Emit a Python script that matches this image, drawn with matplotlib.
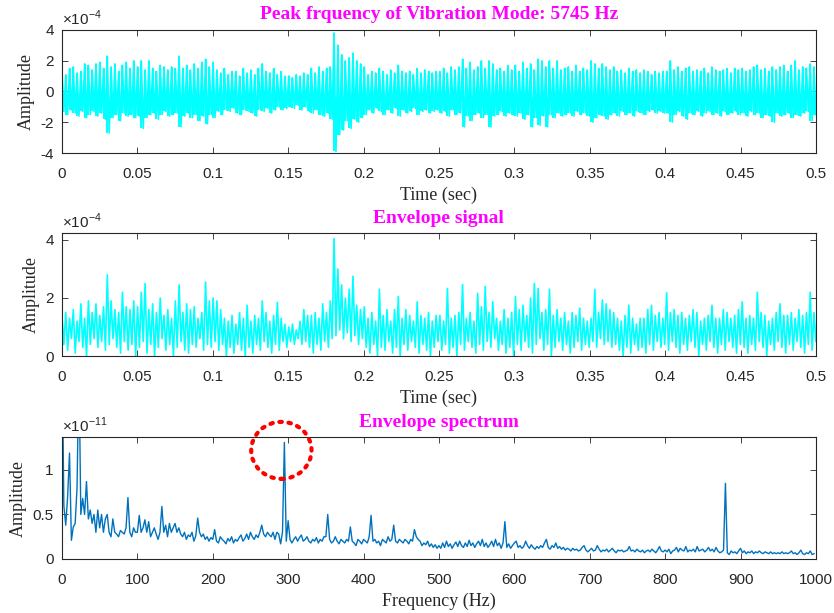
import numpy as np
import matplotlib
matplotlib.use("Agg")
import matplotlib.pyplot as plt
from matplotlib.patches import Ellipse

plt.rcParams['mathtext.fontset'] = 'custom'
plt.rcParams['mathtext.rm'] = 'Liberation Sans'
plt.rcParams['axes.unicode_minus'] = False

# -------- raw vibration signal, per-step max / min (x1e-4), 2.5 ms steps --------
sig_hi = [
    1.4, 1.1, 1.5, 1.6, 1.2, 1.3, 1.8, 1.7, 1.4, 1.8, 1.9, 1.5, 2.3, 1.6, 1.8, 1.3, 1.7, 1.9, 1.5, 2.0,
    1.6, 2.0, 1.4, 2.0, 1.5, 1.3, 1.7, 1.6, 1.4, 1.6, 1.5, 2.3, 1.5, 1.7, 1.4, 1.8, 1.5, 1.9, 2.1, 1.6,
    1.9, 1.4, 1.2, 1.5, 1.1, 1.3, 1.3, 1.0, 1.5, 1.2, 1.4, 1.1, 1.5, 1.8, 1.3, 1.2, 1.5, 1.1, 1.3, 1.0,
    1.0, 0.9, 1.1, 1.0, 1.2, 1.1, 1.5, 1.2, 1.6, 1.3, 1.5, 1.6, 3.8, 3.0, 2.4, 2.0, 2.2, 2.5, 2.0, 1.8,
    1.6, 1.1, 1.3, 1.2, 1.5, 1.3, 1.1, 1.4, 1.2, 1.7, 1.3, 1.2, 1.3, 1.1, 1.5, 1.2, 1.4, 1.3, 1.2, 1.3,
    1.3, 1.5, 1.2, 1.6, 1.4, 1.6, 2.1, 1.5, 1.9, 1.4, 1.6, 2.0, 1.5, 2.0, 1.8, 1.4, 1.5, 1.3, 1.7, 1.4,
    1.7, 1.3, 1.9, 1.5, 1.8, 1.4, 2.1, 2.0, 1.6, 2.0, 1.5, 2.0, 1.4, 1.5, 1.6, 1.3, 1.7, 1.3, 1.5, 1.4,
    2.0, 1.8, 1.5, 1.8, 1.6, 1.4, 1.6, 1.3, 1.4, 1.2, 1.5, 1.3, 1.4, 1.2, 1.4, 1.3, 1.1, 1.3, 1.2, 1.3,
    1.3, 2.0, 1.4, 1.6, 1.3, 1.5, 1.6, 1.3, 1.4, 1.3, 1.5, 1.2, 1.6, 1.4, 1.3, 1.4, 1.5, 1.2, 1.5, 1.4,
    1.5, 1.3, 1.4, 1.6, 1.7, 1.4, 1.5, 1.3, 1.6, 1.4, 1.6, 1.7, 1.3, 1.7, 2.0, 1.4, 1.6, 1.5, 1.8, 1.6,
]
sig_lo = [
    -1.3, -1.5, -1.2, -1.4, -1.6, -1.3, -1.7, -1.5, -1.3, -1.6, -1.4, -1.8, -2.7, -1.7, -1.5, -1.9, -1.4, -1.6, -1.5, -1.7,
    -1.6, -2.4, -1.7, -1.5, -1.4, -1.8, -1.5, -1.3, -1.6, -1.5, -1.4, -2.3, -1.6, -1.4, -1.7, -1.5, -1.9, -1.6, -2.1, -1.5,
    -1.7, -1.3, -1.5, -1.2, -1.3, -1.1, -1.4, -1.5, -1.2, -1.3, -1.4, -1.6, -1.2, -1.3, -1.1, -1.4, -1.2, -1.0, -1.2, -1.1,
    -1.0, -1.1, -0.9, -1.2, -1.0, -1.3, -1.4, -1.2, -1.5, -1.6, -1.4, -1.8, -3.9, -2.8, -2.5, -1.9, -2.4, -1.8, -2.0, -1.7,
    -1.5, -1.2, -1.4, -1.1, -1.3, -1.5, -1.2, -1.4, -1.1, -1.6, -1.2, -1.4, -1.3, -1.1, -1.5, -1.3, -1.2, -1.4, -1.3, -1.2,
    -1.4, -1.3, -1.6, -1.2, -1.5, -1.4, -2.3, -1.6, -1.9, -1.5, -1.4, -1.7, -1.5, -2.3, -1.6, -1.5, -1.3, -1.6, -1.4, -1.5,
    -1.6, -1.4, -1.8, -1.5, -2.3, -1.7, -2.2, -1.6, -2.3, -1.5, -1.7, -1.4, -1.6, -1.5, -1.4, -1.6, -1.3, -1.5, -1.4, -1.6,
    -2.0, -1.7, -1.5, -1.6, -1.8, -1.5, -1.4, -1.6, -1.3, -1.5, -1.4, -1.6, -1.3, -1.4, -1.5, -1.3, -1.2, -1.4, -1.3, -1.4,
    -1.4, -2.0, -1.5, -1.3, -1.6, -1.8, -1.4, -1.5, -1.3, -1.6, -1.4, -1.3, -1.5, -1.4, -1.6, -1.3, -1.5, -1.4, -1.3, -1.5,
    -1.4, -1.6, -1.3, -1.5, -1.4, -1.7, -1.5, -1.6, -2.0, -1.4, -1.6, -1.5, -1.4, -1.7, -1.5, -1.6, -1.4, -1.3, -1.9, -1.5,
]

# -------- envelope signal, peaks / troughs (x1e-4) --------
env_hi = [
    1.4, 1.5, 1.3, 1.6, 1.2, 1.8, 1.3, 1.9, 1.5, 1.8, 1.4, 1.7, 2.8, 1.9, 1.6, 1.5, 2.2, 1.7, 1.6, 1.9,
    1.7, 2.2, 2.5, 1.6, 1.8, 1.5, 2.0, 1.4, 1.6, 1.3, 1.9, 2.45, 1.5, 1.8, 1.6, 1.7, 1.3, 1.5, 2.55, 1.9,
    2.0, 1.9, 1.6, 1.3, 1.2, 1.4, 1.1, 1.5, 1.3, 1.75, 1.2, 1.4, 1.3, 1.9, 1.5, 1.2, 1.4, 1.85, 1.3, 1.1,
    1.0, 1.1, 0.9, 1.2, 1.6, 1.4, 1.4, 1.5, 1.3, 1.8, 1.5, 1.9, 4.05, 3.0, 2.45, 2.0, 2.3, 2.75, 1.75, 1.6,
    1.7, 1.3, 1.5, 1.2, 2.3, 1.4, 1.6, 1.2, 1.6, 2.05, 1.3, 1.6, 1.4, 1.2, 1.87, 1.4, 1.3, 1.5, 1.2, 1.4,
    1.4, 1.2, 2.33, 1.3, 1.4, 1.5, 2.47, 1.3, 1.5, 1.2, 2.16, 1.7, 2.4, 1.5, 1.87, 1.3, 1.2, 1.6, 1.3, 1.5,
    2.05, 1.6, 1.75, 1.4, 2.0, 2.5, 2.33, 1.5, 1.6, 2.3, 1.4, 1.6, 1.3, 1.5, 1.2, 1.5, 1.4, 1.65, 1.3, 1.2,
    1.3, 2.3, 1.5, 1.93, 1.8, 1.6, 1.5, 1.3, 1.2, 1.4, 1.75, 1.3, 1.1, 1.3, 1.3, 1.6, 1.75, 1.4, 1.5, 1.3,
    2.18, 1.5, 1.6, 1.4, 1.5, 1.3, 1.4, 1.6, 1.5, 1.2, 1.3, 1.4, 1.75, 1.3, 1.3, 1.6, 1.5, 1.3, 1.4, 1.6,
    1.87, 1.3, 1.4, 1.3, 2.2, 1.5, 1.4, 1.2, 1.3, 1.5, 1.8, 1.4, 1.4, 1.5, 1.3, 1.6, 1.4, 1.5, 2.2, 1.5,
]
env_lo = [
    0.4, 0.2, 0.6, 0.1, 0.5, 0.3, 0.0, 0.4, 0.6, 0.3, 0.5, 0.2, 0.4, 0.6, 0.3, 0.1, 0.5, 0.2, 0.4, 0.0,
    0.3, 0.5, 0.1, 0.4, 0.0, 0.3, 0.6, 0.2, 0.4, 0.0, 0.3, 0.5, 0.2, 0.1, 0.4, 0.3, 0.6, 0.2, 0.4, 0.3,
    0.5, 0.2, 0.4, 0.0, 0.3, 0.1, 0.4, 0.2, 0.0, 0.3, 0.1, 0.4, 0.2, 0.5, 0.3, 0.1, 0.4, 0.2, 0.5, 0.3,
    0.5, 0.4, 0.6, 0.4, 0.5, 0.3, 0.1, 0.4, 0.2, 0.5, 0.3, 0.6, 0.7, 0.9, 0.6, 0.8, 0.5, 0.7, 0.4, 0.6,
    0.3, 0.1, 0.4, 0.0, 0.3, 0.2, 0.5, 0.1, 0.3, 0.0, 0.4, 0.2, 0.5, 0.3, 0.1, 0.4, 0.2, 0.0, 0.3, 0.5,
    0.2, 0.4, 0.1, 0.3, 0.0, 0.4, 0.2, 0.5, 0.3, 0.1, 0.4, 0.2, 0.5, 0.3, 0.6, 0.2, 0.4, 0.1, 0.3, 0.0,
    0.4, 0.2, 0.5, 0.3, 0.1, 0.4, 0.6, 0.2, 0.4, 0.0, 0.3, 0.5, 0.2, 0.4, 0.1, 0.3, 0.5, 0.2, 0.4, 0.3,
    0.5, 0.3, 0.6, 0.4, 0.5, 0.3, 0.4, 0.2, 0.0, 0.3, 0.1, 0.4, 0.2, 0.3, 0.1, 0.4, 0.2, 0.5, 0.3, 0.4,
    0.2, 0.5, 0.3, 0.1, 0.4, 0.2, 0.5, 0.3, 0.0, 0.4, 0.2, 0.5, 0.3, 0.1, 0.4, 0.2, 0.5, 0.3, 0.1, 0.4,
    0.3, 0.1, 0.4, 0.2, 0.5, 0.3, 0.0, 0.4, 0.2, 0.5, 0.3, 0.1, 0.4, 0.2, 0.5, 0.3, 0.1, 0.4, 0.2, 0.5,
]

# -------- envelope spectrum (x1e-11), 2.5 Hz bins from 0 Hz --------
spec = [
    2.5, 0.6, 0.38, 0.7, 1.19, 0.21, 0.36, 0.4, 0.8, 2.2, 0.5, 0.68, 0.5, 0.87, 0.45, 0.55, 0.4, 0.5, 0.3, 0.55,
    0.35, 0.5, 0.3, 0.45, 0.5, 0.3, 0.25, 0.45, 0.3, 0.28, 0.25, 0.32, 0.3, 0.28, 0.35, 0.69, 0.3, 0.25, 0.35, 0.3,
    0.3, 0.49, 0.3, 0.35, 0.44, 0.3, 0.42, 0.25, 0.3, 0.35, 0.28, 0.22, 0.3, 0.59, 0.3, 0.38, 0.25, 0.4, 0.3, 0.35,
    0.4, 0.3, 0.35, 0.28, 0.25, 0.3, 0.22, 0.27, 0.25, 0.3, 0.2, 0.26, 0.46, 0.3, 0.25, 0.28, 0.22, 0.25, 0.2, 0.24,
    0.22, 0.33, 0.2, 0.18, 0.25, 0.22, 0.2, 0.17, 0.23, 0.2, 0.25, 0.18, 0.22, 0.2, 0.24, 0.27, 0.2, 0.23, 0.28, 0.22,
    0.3, 0.25, 0.22, 0.27, 0.24, 0.3, 0.38, 0.28, 0.25, 0.3, 0.27, 0.25, 0.3, 0.22, 0.3, 0.28, 0.17, 0.3, 1.31, 0.2,
    0.43, 0.22, 0.18, 0.22, 0.25, 0.2, 0.24, 0.27, 0.2, 0.22, 0.25, 0.2, 0.18, 0.22, 0.2, 0.24, 0.18, 0.22, 0.2, 0.25,
    0.25, 0.5, 0.22, 0.18, 0.2, 0.25, 0.2, 0.17, 0.22, 0.2, 0.18, 0.22, 0.2, 0.36, 0.2, 0.18, 0.15, 0.22, 0.2, 0.17,
    0.22, 0.2, 0.18, 0.25, 0.49, 0.2, 0.22, 0.18, 0.2, 0.15, 0.22, 0.2, 0.18, 0.25, 0.2, 0.22, 0.38, 0.2, 0.18, 0.22,
    0.2, 0.18, 0.22, 0.2, 0.17, 0.22, 0.2, 0.33, 0.25, 0.22, 0.2, 0.15, 0.18, 0.16, 0.2, 0.14, 0.17, 0.13, 0.16, 0.12,
    0.15, 0.12, 0.18, 0.13, 0.2, 0.14, 0.17, 0.12, 0.16, 0.19, 0.14, 0.2, 0.15, 0.13, 0.18, 0.14, 0.21, 0.15, 0.18, 0.13,
    0.17, 0.2, 0.15, 0.22, 0.14, 0.18, 0.13, 0.16, 0.2, 0.14, 0.22, 0.15, 0.18, 0.12, 0.18, 0.42, 0.13, 0.17, 0.12, 0.15,
    0.18, 0.2, 0.13, 0.15, 0.12, 0.14, 0.2, 0.15, 0.12, 0.16, 0.13, 0.11, 0.14, 0.12, 0.15, 0.13, 0.18, 0.22, 0.13, 0.11,
    0.15, 0.13, 0.18, 0.12, 0.14, 0.11, 0.13, 0.1, 0.12, 0.11, 0.09, 0.12, 0.1, 0.11, 0.09, 0.1, 0.13, 0.15, 0.1, 0.08,
    0.1, 0.12, 0.09, 0.1, 0.15, 0.11, 0.08, 0.1, 0.09, 0.11, 0.08, 0.1, 0.12, 0.09, 0.07, 0.1, 0.09, 0.1, 0.08, 0.09,
    0.1, 0.14, 0.09, 0.1, 0.08, 0.11, 0.09, 0.08, 0.1, 0.07, 0.09, 0.1, 0.08, 0.11, 0.09, 0.07, 0.1, 0.14, 0.09, 0.08,
    0.1, 0.08, 0.11, 0.06, 0.09, 0.1, 0.13, 0.08, 0.12, 0.1, 0.09, 0.14, 0.08, 0.1, 0.09, 0.11, 0.08, 0.14, 0.09, 0.1,
    0.11, 0.08, 0.1, 0.13, 0.09, 0.11, 0.08, 0.13, 0.09, 0.07, 0.08, 0.1, 0.85, 0.07, 0.05, 0.09, 0.07, 0.08, 0.06, 0.09,
    0.12, 0.07, 0.09, 0.06, 0.08, 0.07, 0.09, 0.06, 0.08, 0.07, 0.09, 0.07, 0.06, 0.08, 0.07, 0.06, 0.08, 0.06, 0.07, 0.06,
    0.07, 0.06, 0.08, 0.06, 0.07, 0.06, 0.07, 0.09, 0.06, 0.07, 0.05, 0.07, 0.1, 0.06, 0.05, 0.07, 0.06, 0.09, 0.05, 0.06,
]

peak_mode = 5745
fault_freq = 295

cyan = '#00FFFF'
blue = '#0072BD'
magenta = '#FF00FF'
grey = '#262626'
serif = 'Liberation Serif'
sans = 'Liberation Sans'
time_labels = ['0', '0.05', '0.1', '0.15', '0.2', '0.25', '0.3', '0.35', '0.4', '0.45', '0.5']


def zigzag(hi, lo, t_end):
    y = np.column_stack([hi, lo]).ravel()
    t = np.linspace(0, t_end, y.size)
    return t, y


def style(ax, exp):
    ax.tick_params(direction='in', top=True, right=True, length=4, width=0.6,
                   colors=grey, labelsize=11)
    ax.tick_params(axis='x', pad=10)
    ax.tick_params(axis='y', pad=6)
    for lab in ax.get_xticklabels() + ax.get_yticklabels():
        lab.set_fontfamily(sans)
    for s in ax.spines.values():
        s.set_color(grey)
        s.set_linewidth(0.8)
    ax.set_ylabel('Amplitude', fontsize=13, family=serif, color=grey, labelpad=4)
    ax.text(0, 1.015, r'$\times10^{%d}$' % exp, transform=ax.transAxes,
            fontsize=11, color=grey, ha='left', va='bottom')


fig = plt.figure(figsize=(8.34, 6.13), dpi=100)
ax1 = fig.add_axes([0.0743, 0.7504, 0.904, 0.2007])
ax2 = fig.add_axes([0.0743, 0.4192, 0.904, 0.2007])
ax3 = fig.add_axes([0.0743, 0.0881, 0.904, 0.1990])

# raw signal: min/max bars plus the trace joining them
t, y = zigzag(sig_hi, sig_lo, 0.5)
ax1.vlines(t[::2], sig_lo, sig_hi, color=cyan, lw=1.4)
ax1.plot(t, y, color=cyan, lw=1.2)
ax1.set_xlim(0, 0.5)
ax1.set_ylim(-4, 4)
ax1.set_xticks(np.arange(0, 0.51, 0.05))
ax1.set_xticklabels(time_labels)
ax1.set_yticks([-4, -2, 0, 2, 4])
ax1.set_xlabel('Time (sec)', fontsize=13, family=serif, color=grey)
ax1.set_title('Peak frquency of Vibration Mode: %d Hz' % peak_mode, fontsize=14,
              family=serif, fontweight='bold', color=magenta, pad=8)
style(ax1, -4)

# envelope
t, y = zigzag(env_hi, env_lo, 0.5)
ax2.plot(t, y, color=cyan, lw=1.2)
ax2.set_xlim(0, 0.5)
ax2.set_ylim(0, 4.24)
ax2.set_xticks(np.arange(0, 0.51, 0.05))
ax2.set_xticklabels(time_labels)
ax2.set_yticks([0, 2, 4])
ax2.set_xlabel('Time (sec)', fontsize=13, family=serif, color=grey)
ax2.set_title('Envelope signal', fontsize=14, family=serif, fontweight='bold',
              color=magenta, pad=7)
style(ax2, -4)

# envelope spectrum
f = np.arange(len(spec)) * 2.5
ax3.plot(f, spec, color=blue, lw=1.0)
ax3.set_xlim(0, 1000)
ax3.set_ylim(0, 1.37)
ax3.set_xticks(np.arange(0, 1001, 100))
ax3.set_yticks([0, 0.5, 1])
ax3.set_yticklabels(['0', '0.5', '1'])
ax3.set_xlabel('Frequency (Hz)', fontsize=13, family=serif, color=grey)
ax3.set_title('Envelope spectrum', fontsize=14, family=serif, fontweight='bold',
              color=magenta, pad=7)
style(ax3, -11)

ring = Ellipse((fault_freq - 4, 1.22), 80, 0.64, fill=False, edgecolor='red',
               lw=3, linestyle=(0, (0.6, 1.6)), clip_on=False, zorder=5)
ring.set_capstyle('round')
ax3.add_patch(ring)

fig.savefig('out.png', dpi=100)
